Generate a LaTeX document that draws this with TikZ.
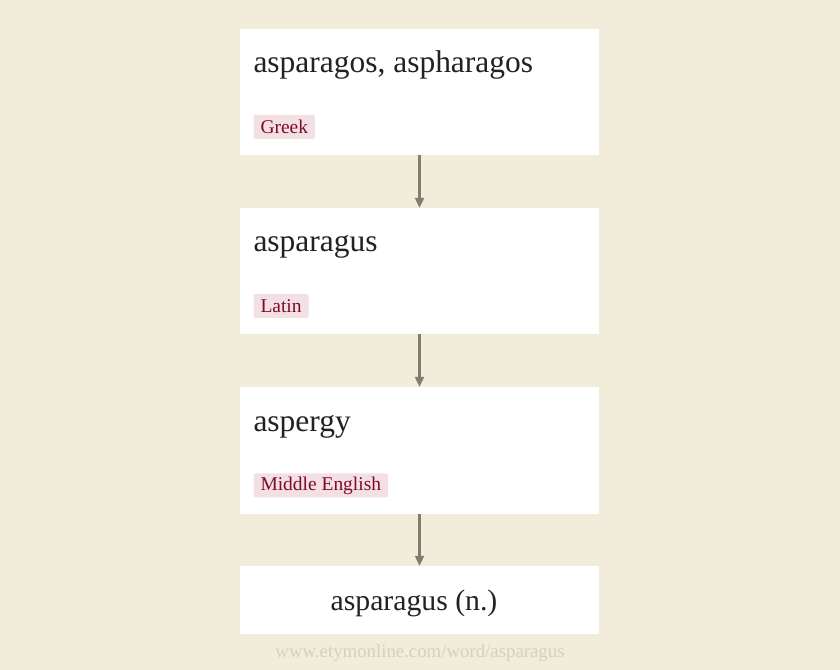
\documentclass[tikz,border=0pt]{standalone}
\usepackage{fontspec}
\setmainfont{Liberation Serif}
\usetikzlibrary{arrows.meta}
\definecolor{pagebg}{RGB}{242,236,218}
\definecolor{tagfill}{RGB}{242,224,228}
\definecolor{tagtext}{RGB}{128,10,40}
\definecolor{arrowgray}{RGB}{130,125,110}
\definecolor{wordtext}{RGB}{34,34,34}
\definecolor{urltext}{RGB}{214,208,192}
\tikzset{every picture/.style={line width=0.75pt}}

\begin{document}
\begin{tikzpicture}[x=0.75pt,y=0.75pt,yscale=-1,xscale=1,
  wordbox/.style={fill=white, draw=none, anchor=north west, inner sep=0pt, outer sep=0pt, minimum width=269.25pt},
  wordtitle/.style={anchor=base west, inner sep=0pt, text=wordtext, font=\fontsize{23.6}{28}\selectfont},
  langtag/.style={anchor=west, fill=tagfill, text=tagtext, rounded corners=1.5pt, inner xsep=5.25pt, inner ysep=0pt, minimum height=18pt, font=\fontsize{14.6}{17}\selectfont},
  flow/.style={draw=arrowgray, line width=1.8pt, -{Triangle[length=7.5pt, width=6.5pt]}}]
%set diagram to the full page, 840 by 670
\useasboundingbox (0,0) rectangle (840,670);
\fill [pagebg] (0,0) rectangle (840,670);

%Shape: Rectangle
\node [wordbox, minimum height=94.5pt] (b1) at (240,29) {};
%Shape: Rectangle
\node [wordbox, minimum height=94.5pt] (b2) at (240,208) {};
%Shape: Rectangle
\node [wordbox, minimum height=95.25pt] (b3) at (240,387) {};
%Shape: Rectangle
\node [wordbox, minimum height=51pt] (b4) at (240,566) {};

%Straight Lines
\draw [flow] (b1) -- (b2);
%Straight Lines
\draw [flow] (b2) -- (b3);
%Straight Lines
\draw [flow] (b3) -- (b4);

% Text Node
\node [wordtitle] (w1) at (253,73) {asparagos, aspharagos};
% Text Node
\node [langtag] (l1) at (253,127) {Greek};
% Text Node
\node [wordtitle] (w2) at (253,252) {asparagus};
% Text Node
\node [langtag] (l2) at (253,306) {Latin};
% Text Node
\node [wordtitle] (w3) at (253,431.5) {aspergy};
% Text Node
\node [langtag] (l3) at (253,485.5) {Middle English};
% Text Node
\node [wordtitle, anchor=base, font=\fontsize{22.3}{27}\selectfont] (w4) at (414,610) {asparagus (n.)};
% Text Node
\node [anchor=base, inner sep=0pt, text=urltext, font=\fontsize{14.1}{17}\selectfont] (url) at (420,657) {www.etymonline.com/word/asparagus};

\end{tikzpicture}
\end{document}
